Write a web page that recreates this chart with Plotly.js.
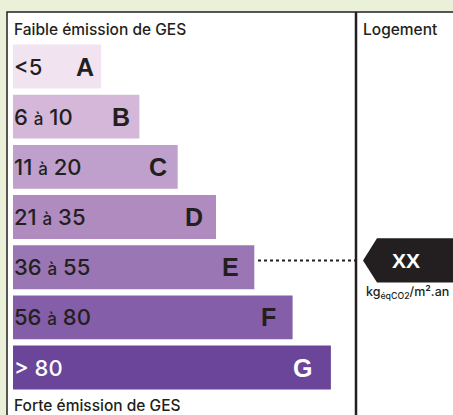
<!DOCTYPE html>
<html>
<head>
<meta charset="utf-8">
<script src="https://cdn.plot.ly/plotly-3.0.1.min.js"></script>
<style>html,body{margin:0;padding:0;background:#ebf0d8;}#chart{width:453px;height:415px;}</style>
</head>
<body>
<div id="chart"></div>
<script>
// ---- data ----
const categories = ['A', 'B', 'C', 'D', 'E', 'F', 'G'];
const ranges = ['<5', '6 à 10', '11 à 20', '21 à 35', '36 à 55', '56 à 80', '> 80'];
const ranks = [1, 2, 3, 4, 5, 6, 7];
const ratedClass = 'E';
const ratedValue = 'XX';
const topLabel = 'Faible émission de GES';
const bottomLabel = 'Forte émission de GES';
const columnLabel = 'Logement';
const unitLabel = 'kg<sub>éqCO2</sub>/m².an';

// ---- style ----
const colors = ['#f1e3f0', '#d5b7d9', '#bf9fcc', '#b08bc0', '#9b76b4', '#845ea8', '#6a4599'];
const textColors = ['#231f20', '#231f20', '#231f20', '#231f20', '#231f20', '#231f20', '#ffffff'];
const dark = '#231f20';
const lead = 1.3;
const W = 453, H = 415;
const x0px = 13, xUnit = 38.3;      // pixel of value 0, pixels per unit
const y0px = 66.5, yUnit = 50.17;   // pixel of first category center, pixels per category
const xd = px => (px - x0px) / xUnit;
const yd = px => (px - y0px) / yUnit;
const px = v => v / W;
const py = v => 1 - v / H;

const esc = s => s.replace(/</g, '&lt;').replace(/>/g, '&gt;');
const fmtRange = s => esc(s).replace(' à ', ' <span style="font-size:17px">à</span> ');

const labelFont = {family: 'Inter, DejaVu Sans', weight: 500};

const trace = {
  type: 'bar',
  orientation: 'h',
  y: categories,
  x: ranks.map(r => r + lead),
  base: 0,
  width: 0.875,
  marker: {color: colors, line: {width: 0}},
  hoverinfo: 'skip'
};

const annotations = [];
categories.forEach((c, i) => {
  annotations.push({
    xref: 'x', yref: 'y', x: 0, y: c, xanchor: 'left', yanchor: 'middle',
    text: fmtRange(ranges[i]), showarrow: false, xshift: -1,
    font: Object.assign({size: 22, color: textColors[i]}, labelFont)
  });
  annotations.push({
    xref: 'x', yref: 'y', x: ranks[i] + lead, y: c, xanchor: 'right', yanchor: 'middle',
    text: '<b>' + c + '</b>', showarrow: false, xshift: -5 - i * 2,
    font: {family: 'Liberation Sans', size: 25, color: textColors[i]}
  });
});
annotations.push({xref: 'paper', yref: 'paper', x: px(12), y: py(29), xanchor: 'left', yanchor: 'middle',
  text: topLabel, showarrow: false, font: Object.assign({size: 15.5, color: dark}, labelFont)});
annotations.push({xref: 'paper', yref: 'paper', x: px(12), y: py(405), xanchor: 'left', yanchor: 'middle',
  text: bottomLabel, showarrow: false, font: Object.assign({size: 15.5, color: dark}, labelFont)});
annotations.push({xref: 'paper', yref: 'paper', x: px(361), y: py(29), xanchor: 'left', yanchor: 'middle',
  text: columnLabel, showarrow: false, font: Object.assign({size: 15.5, color: dark}, labelFont)});

const idx = categories.indexOf(ratedClass);
const mY = idx - 0.135;     // marker center (category units)
const mH = 0.44;            // half height
annotations.push({xref: 'paper', yref: 'y', x: px(406), y: mY, xanchor: 'center', yanchor: 'middle',
  text: '<b>' + ratedValue + '</b>', showarrow: false,
  font: {family: 'Liberation Sans', size: 21, color: '#ffffff'}});
annotations.push({xref: 'paper', yref: 'y', x: px(364), y: mY + 0.64, xanchor: 'left', yanchor: 'middle',
  text: unitLabel, showarrow: false,
  font: Object.assign({size: 12.5, color: dark}, labelFont)});

const shapes = [
  // white panel
  {type: 'rect', xref: 'paper', yref: 'paper', x0: px(7), x1: px(470), y0: py(12), y1: py(430),
   fillcolor: '#ffffff', line: {color: dark, width: 1.5}, layer: 'below'},
  // column divider
  {type: 'line', xref: 'paper', yref: 'paper', x0: px(356), x1: px(356), y0: py(12), y1: py(430),
   line: {color: dark, width: 2.5}, layer: 'below'},
  // dotted leader
  {type: 'line', xref: 'x', yref: 'y', x0: xd(258), x1: xd(356), y0: mY, y1: mY,
   line: {color: dark, width: 2, dash: 'dot'}},
  // marker arrow
  {type: 'path', xref: 'x', yref: 'y',
   path: `M ${xd(363)} ${mY} L ${xd(377)} ${mY - mH} L ${xd(470)} ${mY - mH} L ${xd(470)} ${mY + mH} L ${xd(377)} ${mY + mH} Z`,
   fillcolor: dark, line: {width: 0}}
];

const layout = {
  width: W, height: H,
  margin: {l: 0, r: 0, t: 0, b: 0, pad: 0},
  paper_bgcolor: '#ebf0d8',
  plot_bgcolor: 'rgba(0,0,0,0)',
  showlegend: false,
  xaxis: {range: [xd(0), xd(W)], visible: false, fixedrange: true},
  yaxis: {type: 'category', categoryorder: 'array', categoryarray: categories,
          range: [yd(H), yd(0)], visible: false, fixedrange: true},
  annotations: annotations,
  shapes: shapes
};

Plotly.newPlot('chart', [trace], layout, {displayModeBar: false, staticPlot: true});
</script>
</body>
</html>
